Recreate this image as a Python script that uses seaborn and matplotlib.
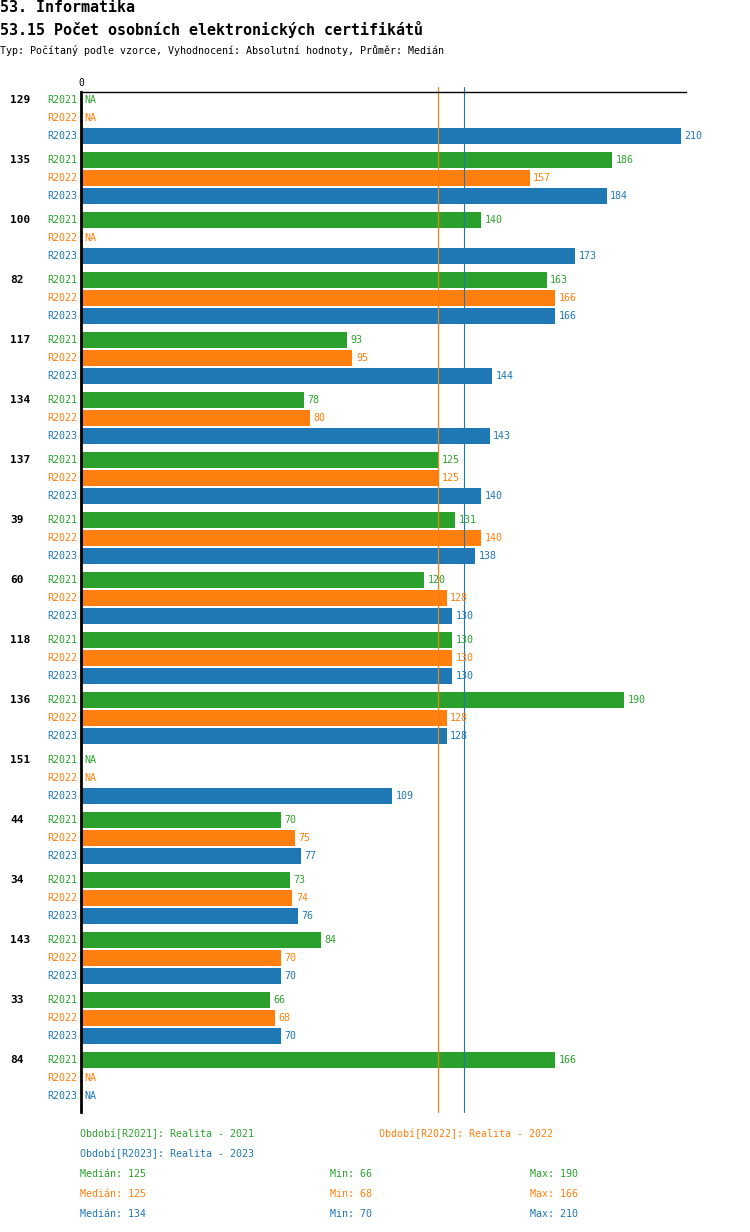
import numpy as np
import pandas as pd
import matplotlib
matplotlib.use("Agg")
import matplotlib.pyplot as plt
import matplotlib.transforms as mtransforms
import seaborn as sns

groups = ["129", "135", "100", "82", "117", "134", "137", "39", "60",
          "118", "136", "151", "44", "34", "143", "33", "84"]
series = ["R2021", "R2022", "R2023"]
r2021 = [np.nan, 186, 140, 163, 93, 78, 125, 131, 120, 130, 190, np.nan, 70, 73, 84, 66, 166]
r2022 = [np.nan, 157, np.nan, 166, 95, 80, 125, 140, 128, 130, 128, np.nan, 75, 74, 70, 68, np.nan]
r2023 = [210, 184, 173, 166, 144, 143, 140, 138, 130, 130, 128, 109, 77, 76, 70, 70, np.nan]
legend_names = ["Realita - 2021", "Realita - 2022", "Realita - 2023"]
colors = ["#2ca02c", "#ff7f0e", "#1f77b4"]

title1 = "53. Informatika"
title2 = "53.15 Počet osobních elektronických certifikátů"
subtitle = "Typ: Počítaný podle vzorce, Vyhodnocení: Absolutní hodnoty, Průměr: Medián"

W, H = 750, 1232
MONO = "DejaVu Sans Mono"

values = {"R2021": r2021, "R2022": r2022, "R2023": r2023}
df = pd.DataFrame({
    "group": np.repeat(groups, 3),
    "series": series * len(groups),
    "value": [values[s][g] for g in range(len(groups)) for s in series],
})
plot_df = df.dropna()

sns.set_style("white")
plt.rcParams["font.family"] = [MONO, "DejaVu Sans"]
plt.rcParams["text.color"] = "black"
plt.rcParams["xtick.color"] = "black"

fig = plt.figure(figsize=(W / 100, H / 100), dpi=100)
ax = fig.add_axes([81 / W, 1 - 1112 / H, (686 - 81) / W, (1112 - 92) / H])

sns.barplot(data=plot_df, y="group", x="value", hue="series",
            order=groups, hue_order=series, palette=colors,
            orient="h", width=0.9, gap=0.11, legend=False, ax=ax,
            saturation=1, edgecolor="none")

xmax = 210 * (686 - 81) / 600
ax.set_xlim(0, xmax)
ax.set_ylim(len(groups) - 1 + 34 / 60, -26 / 60)

for side in ["right", "bottom"]:
    ax.spines[side].set_visible(False)
ax.spines["top"].set_color("black")
ax.spines["top"].set_linewidth(1)
ax.spines["left"].set_color("black")
ax.spines["left"].set_linewidth(2)
ax.set_xlabel("")
ax.set_ylabel("")
ax.set_yticks([])
ax.xaxis.tick_top()
ax.set_xticks([0])
ax.set_xticklabels(["0"], fontsize=7, family=MONO, color="black")
ax.tick_params(axis="x", length=0, pad=3)

# median lines
for s, c in zip(series, colors):
    med = np.nanmedian(values[s])
    ax.axvline(med, color=c, linewidth=0.8, ymin=0, ymax=1 + 5 / 1020, clip_on=False)

grp_tr = mtransforms.blended_transform_factory(fig.transFigure, ax.transData)
offsets = [-0.3, 0.0, 0.3]
for g, name in enumerate(groups):
    fig.text(10 / W, g + offsets[0], name, transform=grp_tr, ha="left", va="center",
             fontsize=8, fontweight="bold", family=MONO, color="black")
    for s, c, off in zip(series, colors, offsets):
        y = g + off
        v = values[s][g]
        ax.annotate(s, (0, y), xytext=(-3, 0), textcoords="offset points",
                    ha="right", va="center", color=c, fontsize=7.2, family=MONO)
        label = "NA" if np.isnan(v) else f"{v:.0f}"
        xv = 0 if np.isnan(v) else v
        ax.annotate(label, (xv, y), xytext=(2.5, 0), textcoords="offset points",
                    ha="left", va="center", color=c, fontsize=7.2, family=MONO)

# titles
fig.text(0, 1 - 8 / H, title1, ha="left", va="center", fontsize=10.8,
         fontweight="bold", family=MONO, color="black")
fig.text(0, 1 - 30 / H, title2, ha="left", va="center", fontsize=10.8,
         fontweight="bold", family=MONO, color="black")
fig.text(0, 1 - 50 / H, subtitle, ha="left", va="center", fontsize=7.2,
         family=MONO, color="black")

# legend
leg_pos = [(80, 1134), (379, 1134), (80, 1154)]
for s, name, c, (x, y) in zip(series, legend_names, colors, leg_pos):
    fig.text(x / W, 1 - y / H, f"Období[{s}]: {name}", ha="left", va="center",
             color=c, fontsize=7.2, family=MONO)

for i, (s, c) in enumerate(zip(series, colors)):
    y = 1 - (1174 + 20 * i) / H
    arr = np.array(values[s], dtype=float)
    fig.text(80 / W, y, f"Medián: {np.nanmedian(arr):.0f}", color=c,
             ha="left", va="center", fontsize=7.2, family=MONO)
    fig.text(330 / W, y, f"Min: {np.nanmin(arr):.0f}", color=c,
             ha="left", va="center", fontsize=7.2, family=MONO)
    fig.text(530 / W, y, f"Max: {np.nanmax(arr):.0f}", color=c,
             ha="left", va="center", fontsize=7.2, family=MONO)

fig.savefig("out.png", dpi=100)
